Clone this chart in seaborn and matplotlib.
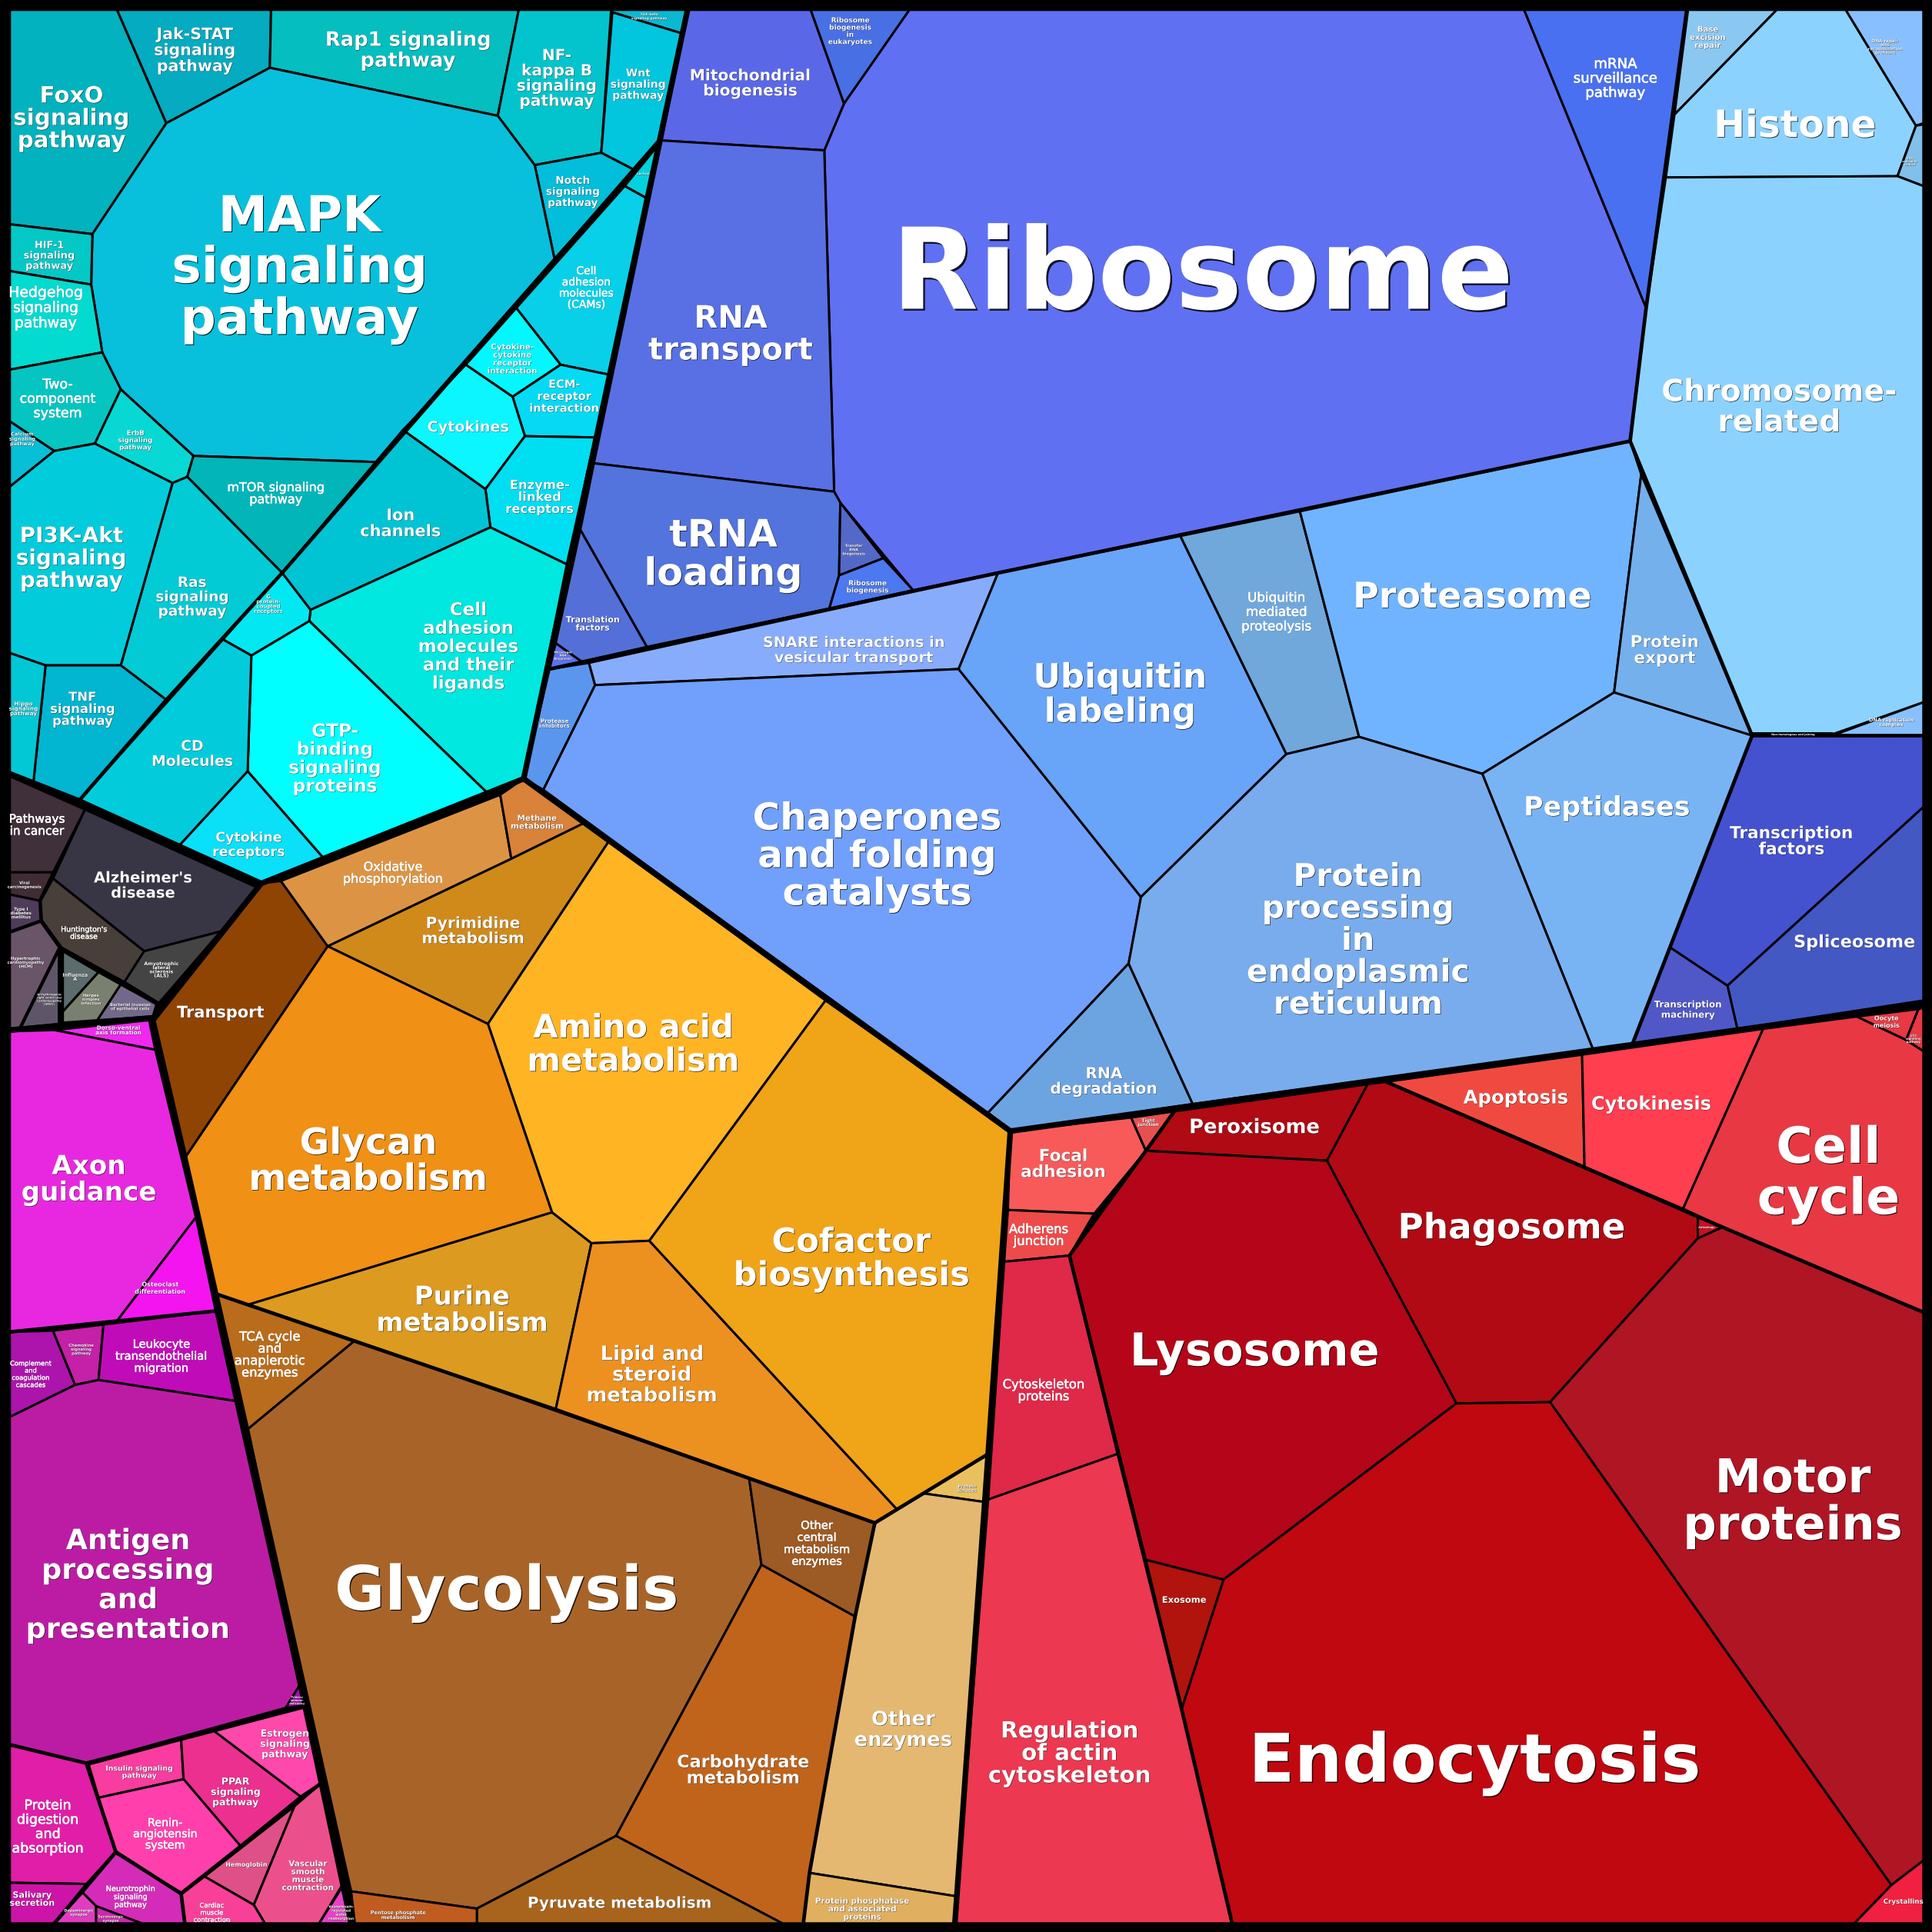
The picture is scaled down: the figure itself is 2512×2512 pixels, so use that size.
import numpy as np
import pandas as pd
import matplotlib
matplotlib.use("Agg")
import matplotlib.pyplot as plt
import matplotlib.patheffects as pe
import seaborn as sns

# === Signaling (cyan) ===
sig_names = ["FoxO\nsignaling\npathway", "Jak-STAT\nsignaling\npathway", "Rap1 signaling\npathway", "NF-\nkappa B\nsignaling\npathway",
             "TGF-beta\nsignaling pathway", "Wnt\nsignaling\npathway", "Notch\nsignaling\npathway", "Lectins",
             "MAPK\nsignaling\npathway", "HIF-1\nsignaling\npathway", "Hedgehog\nsignaling\npathway", "Two-\ncomponent\nsystem",
             "Calcium\nsignaling\npathway", "ErbB\nsignaling\npathway", "mTOR signaling\npathway", "Ras\nsignaling\npathway",
             "PI3K-Akt\nsignaling\npathway", "TNF\nsignaling\npathway", "Hippo\nsignaling\npathway",
             "Cell\nadhesion\nmolecules\n(CAMs)", "Cytokine-\ncytokine\nreceptor\ninteraction", "ECM-\nreceptor\ninteraction",
             "Cytokines", "Enzyme-\nlinked\nreceptors", "Ion\nchannels", "Cell\nadhesion\nmolecules\nand their\nligands",
             "GTP-\nbinding\nsignaling\nproteins", "G\nprotein-\ncoupled\nreceptors", "CD\nMolecules", "Cytokine\nreceptors"]
sig_colors = ["#02B2BE", "#05ABC0", "#04BEC0", "#03C4CC", "#0AB8D2", "#02C6DE", "#02BEDA", "#02D2DE",
              "#08C0DC", "#03C8C6", "#03DAD0", "#04C5C2", "#08BFD8", "#08D8D4", "#02B5B8", "#02CBD6",
              "#02CCDC", "#02B5D0", "#02C8D6",
              "#08D0E8", "#02F8FF", "#04DAF4", "#0BF6FF", "#00DEF2", "#00C4D4", "#00E8E0",
              "#00FFFF", "#02E8F2", "#02CCDC", "#0AE0F8"]
sig_polys = [[(8,8),(95,8),(135,100),(75,190),(8,182)], [(95,8),(220,8),(219,55),(135,100)],
             [(220,8),(421,8),(404,94),(219,55)], [(421,8),(496,8),(488,124),(434,134),(404,94)],
             [(496,8),(558,8),(553,27),(497,10)], [(497,10),(553,27),(534,115),(515,138),(488,124)],
             [(434,134),(488,124),(515,138),(450,210)], [(534,118),(507,151),(525,161)],
             [(75,190),(135,100),(219,55),(404,94),(434,134),(450,210),(305,375),(157,370),(98,316),(83,286),(74,231)],
             [(8,182),(75,190),(74,231),(8,220)], [(8,220),(74,231),(83,286),(8,300)],
             [(8,300),(83,286),(98,316),(77,360),(44,366),(8,342)], [(8,342),(44,366),(8,395)],
             [(98,316),(157,370),(152,387),(140,392),(77,360)], [(157,370),(305,375),(229,465),(152,387)],
             [(140,392),(152,387),(229,465),(135,568),(98,540)],
             [(8,395),(44,366),(77,360),(140,392),(98,540),(37,540),(8,530)],
             [(37,540),(98,540),(135,568),(64,650),(27,636)], [(8,530),(37,540),(27,636),(8,628)],
             [(507,151),(525,161),(494,304),(455,296),(419,250)], [(419,250),(455,296),(416,322),(378,296)],
             [(455,296),(494,304),(483,355),(426,354),(416,322)], [(378,296),(416,322),(426,354),(394,397),(327,349)],
             [(426,354),(483,355),(460,458),(398,428),(394,397)], [(327,349),(394,397),(398,428),(252,495),(229,465)],
             [(252,495),(398,428),(460,458),(425,632),(396,644),(251,504)],
             [(251,504),(396,644),(263,697),(201,626),(204,532)], [(229,465),(252,495),(251,504),(204,532),(181,519)],
             [(181,519),(204,532),(201,626),(143,689),(64,650)], [(201,626),(263,697),(212,717),(143,689)]]
sig_xy = [(58,95),(158,40),(331,40),(452,63),(527,13),(518,68),(465,155),(522,141),
          (243,215),(40,207),(37,249),(47,323),(18,356),(110,357),(224,400),(156,484),
          (58,452),(67,575),(19,575),
          (476,233),(416,291),(458,321),(380,346),(438,403),(325,424),(380,524),
          (272,615),(218,490),(156,611),(202,685)]
sig_sizes = [8.4,5.9,7.4,5.8,1.3,4,3.9,1.2,18.5,3.7,5.4,5,1.9,2.5,4.6,5.3,8,4.7,2.1,4,3,4.2,5.5,4.7,6,6.6,6.7,2,5.4,5]

# === Ribosome, RNA and DNA (blue) ===
blue_names = ["Ribosome", "mRNA\nsurveillance\npathway", "Mitochondrial\nbiogenesis", "Ribosome\nbiogenesis\nin\neukaryotes",
              "RNA\ntransport", "tRNA\nloading", "Transfer\nRNA\nbiogenesis", "Ribosome\nbiogenesis", "Translation\nfactors",
              "Messenger\nRNA\nBiogenesis", "Base\nexcision\nrepair", "Histone", "DNA repair\nand\nrecombination\nproteins",
              "DNA\nreplication\ncontrol", "Chromosome-\nrelated", "DNA replication\ncomplex", "Non-homologous end joining",
              "Transcription\nfactors", "Spliceosome", "Transcription\nmachinery"]
blue_colors = ["#6070F2", "#4870F0", "#5A68E8", "#4870E4", "#5870E4", "#5274DC", "#5468C8", "#4C78F0", "#5470D8",
               "#5C70F0", "#8AC8F2", "#8CD2FF", "#88C0FF", "#80C0EA", "#8CD2FF", "#88C0FF", "#8CD2FF",
               "#4452D0", "#4458C4", "#5058C8"]
blue_polys = [[(738,8),(1237,8),(1336,250),(1323,358),(741,479),(682,408),(677,399),(669,122),(685,84)],
              [(1237,8),(1369,8),(1336,250)], [(558,8),(658,8),(685,84),(669,122),(537,114)], [(658,8),(738,8),(685,84)],
              [(537,114),(669,122),(677,399),(482,376)], [(482,376),(677,399),(682,408),(681,467),(673,494),(525,525),(471,430)],
              [(682,408),(717,453),(681,467)], [(681,467),(717,453),(741,479),(673,494)],
              [(471,430),(525,525),(472,537),(451,522)], [(451,522),(472,537),(446,543)],
              [(1370,8),(1442,8),(1359,93)], [(1359,93),(1442,8),(1498,8),(1555,102),(1540,143),(1352,144)],
              [(1498,8),(1561,8),(1561,100),(1555,102)], [(1555,102),(1561,101),(1561,151),(1540,143)],
              [(1352,144),(1540,143),(1561,151),(1561,570),(1487,596),(1422,597),(1323,358),(1336,250)],
              [(1487,597),(1561,570),(1561,597)], [(1422,595),(1487,595),(1487,597),(1422,597)],
              [(1422,597),(1561,597),(1561,655),(1402,800),(1354,768)], [(1561,655),(1561,812),(1410,835),(1402,800)],
              [(1354,768),(1402,800),(1410,835),(1325,847)]]
blue_xy = [(976,218),(1311,63),(609,67),(690,25),(593,270),(587,448),(693,446),(704,476),(481,506),(457,532),
           (1386,30),(1457,100),(1530,38),(1550,131),(1444,329),(1535,586),(1455,596),(1454,682),(1505,764),(1370,819)]
blue_sizes = [42,5.2,5.8,2.6,11.5,14.1,1.4,2.6,3.2,1.1,2.9,14,1.6,0.9,11.3,1.9,1,6.2,6.4,3.4]

# === Protein folding and degradation (light blue) ===
prot_names = ["Protease\ninhibitors", "SNARE interactions in\nvesicular transport", "Chaperones\nand folding\ncatalysts",
              "RNA\ndegradation", "Ubiquitin\nlabeling", "Ubiquitin\nmediated\nproteolysis", "Proteasome", "Protein\nexport",
              "Peptidases", "Protein\nprocessing\nin\nendoplasmic\nreticulum"]
prot_colors = ["#5A96EE", "#88ACFC", "#70A0FC", "#6CA4E2", "#68A4F8", "#70A8DC", "#70B4FF", "#74B0EC", "#78B4F4", "#78ACEC"]
prot_polys = [[(446,543),(478,538),(483,556),(441,641),(425,632)], [(478,538),(810,465),(778,543),(483,556)],
              [(483,556),(778,543),(926,728),(916,782),(802,903),(820,918),(441,641)], [(916,782),(968,896),(820,918),(802,903)],
              [(810,465),(958,435),(1044,612),(926,728),(778,543)], [(958,435),(1055,415),(1103,598),(1044,612)],
              [(1055,415),(1323,358),(1332,385),(1310,562),(1203,628),(1103,598)], [(1332,385),(1422,597),(1310,562)],
              [(1310,562),(1422,597),(1325,847),(1293,852),(1203,628)],
              [(1044,612),(1103,598),(1203,628),(1293,852),(968,896),(916,782),(926,728)]]
prot_xy = [(450,587),(693,527),(712,693),(896,877),(909,562),(1036,496),(1195,483),(1351,527),(1304,654),(1102,762)]
prot_sizes = [2.1,5.5,13.9,5.8,12.5,4.8,13.2,6.2,10,11.7]

# === Metabolism (orange and brown) ===
met_names = ["Transport", "Oxidative\nphosphorylation", "Methane\nmetabolism", "Pyrimidine\nmetabolism", "Amino acid\nmetabolism",
             "Glycan\nmetabolism", "Purine\nmetabolism", "Lipid and\nsteroid\nmetabolism", "Cofactor\nbiosynthesis", "Protein\nkinases",
             "Other\nenzymes", "Protein phosphatase\nand associated\nproteins", "TCA cycle\nand\nanaplerotic\nenzymes", "Glycolysis",
             "Other\ncentral\nmetabolism\nenzymes", "Carbohydrate\nmetabolism", "Pyruvate metabolism", "Pentose phosphate\nmetabolism"]
met_colors = ["#904404", "#DC9444", "#D8823A", "#D08A1A", "#FFB424", "#F09014", "#DC9A20", "#EC9020", "#F0A418", "#E8C060",
              "#E4B870", "#E0B060", "#B86C1C", "#A86428", "#9C5A24", "#C0641C", "#A8641C", "#C05C20"]
met_polys = [[(212,717),(228,715),(266,768),(150,940),(124,828)], [(228,715),(406,645),(415,697),(266,768)],
             [(406,645),(425,632),(474,668),(415,697)], [(266,768),(415,697),(474,668),(494,683),(396,831)],
             [(494,683),(670,812),(527,1007),(480,1009),(448,984),(396,831)], [(266,768),(396,831),(448,984),(201,1059),(175,1050),(150,940)],
             [(201,1059),(448,984),(480,1009),(451,1144)], [(480,1009),(527,1007),(728,1225),(710,1236),(451,1144)],
             [(670,812),(820,918),(802,1180),(728,1225),(527,1007)], [(802,1180),(799,1219),(749,1212)],
             [(710,1236),(749,1212),(799,1219),(776,1539),(657,1520),(694,1312)], [(657,1520),(776,1539),(775,1561),(652,1561)],
             [(175,1050),(288,1088),(201,1160)], [(288,1088),(608,1200),(618,1270),(500,1490),(387,1549),(285,1535),(201,1160)],
             [(608,1200),(710,1236),(694,1312),(618,1270)], [(618,1270),(694,1312),(657,1520),(652,1561),(635,1561),(500,1490)],
             [(500,1490),(635,1561),(387,1561),(387,1549)], [(285,1535),(387,1549),(387,1561),(288,1561)]]
met_xy = [(179,821),(319,708),(436,667),(384,755),(514,846),(299,941),(375,1062),(529,1115),(691,1020),(785,1208),
          (733,1403),(700,1549),(219,1099),(411,1289),(663,1252),(603,1436),(503,1544),(323,1554)]
met_sizes = [6,4.6,3,5.8,12,13.5,9.7,7.4,12.4,1.7,7.4,3,4.7,22.8,4.2,6.4,5.7,1.9]

# === Cellular processes (red) ===
red_names = ["Focal\nadhesion", "Tight\njunction", "Adherens\njunction", "Cytoskeleton\nproteins", "Regulation\nof actin\ncytoskeleton",
             "Peroxisome", "Apoptosis", "Cytokinesis", "Cell\ncycle", "Oocyte\nmeiosis", "p53\nsignaling\npathway", "Phagosome",
             "Lysosome", "Autophagy", "Motor\nproteins", "Endocytosis", "Exosome", "Crystallins"]
red_colors = ["#F85A5A", "#E85050", "#EE4A4A", "#E02848", "#EC3850", "#B00A14", "#F04A40", "#FF3E50", "#E83844", "#E83844", "#E83844",
              "#B20A14", "#B40618", "#C81020", "#B01524", "#C00810", "#B0140C", "#F02040"]
red_polys = [[(820,918),(918,907),(930,934),(888,985),(818,982)], [(918,907),(953,902),(930,934)], [(818,982),(888,985),(868,1019),(815,1024)],
             [(815,1024),(868,1019),(907,1180),(802,1217)], [(802,1217),(907,1180),(959,1387),(1000,1561),(775,1561)],
             [(953,902),(1110,880),(1077,942),(930,934)], [(1125,878),(1284,856),(1286,947)], [(1284,856),(1431,835),(1366,981),(1286,947)],
             [(1431,835),(1507,825),(1547,844),(1561,853),(1561,1065),(1398,996),(1366,981)], [(1507,825),(1557,819),(1547,844)],
             [(1557,819),(1561,818),(1561,853),(1547,844)],
             [(1110,880),(1125,878),(1286,947),(1378,988),(1378,1005),(1258,1138),(1182,1139),(1077,942)],
             [(930,934),(1077,942),(1182,1139),(993,1282),(930,1266),(868,1019)], [(1378,988),(1398,996),(1378,1005)],
             [(1378,1005),(1398,996),(1561,1065),(1561,1510),(1535,1530),(1258,1138)],
             [(1182,1139),(1258,1138),(1535,1530),(1505,1561),(1000,1561),(959,1387),(993,1282)],
             [(930,1266),(993,1282),(959,1387)], [(1535,1530),(1561,1510),(1561,1561),(1505,1561)]]
red_xy = [(863,944),(932,911),(843,1002),(847,1128),(868,1422),(1018,914),(1230,890),(1340,895),(1484,950),(1531,829),(1553,843),
          (1227,995),(1018,1095),(1385,996),(1455,1217),(1197,1427),(961,1298),(1545,1543)]
red_sizes = [6.2,1.7,4.7,4.7,8.4,7.4,7,6.9,18.6,2.3,1.1,13,16.9,0.8,17.4,25,3.3,2.5]

# === Disease (dark) ===
dark_names = ["Pathways\nin cancer", "Viral\ncarcinogenesis", "Type I\ndiabetes\nmellitus", "Alzheimer's\ndisease", "Huntington's\ndisease",
              "Amyotrophic\nlateral\nsclerosis\n(ALS)", "Hypertrophic\ncardiomyopathy\n(HCM)",
              "Arrhythmogenic\nright ventricular\ncardiomyopathy\n(ARVC)", "Influenza\nA", "Herpes\nsimplex\ninfection",
              "Bacterial invasion\nof epithelial cells"]
dark_colors = ["#40303A", "#402C34", "#4E3C5A", "#383644", "#483E3A", "#444444", "#6A5468", "#5E5668", "#5C6C6C", "#7A8070", "#74688A"]
dark_polys = [[(8,630),(69,657),(43,708),(8,708)], [(8,708),(43,708),(32,731),(8,726)], [(8,726),(32,731),(33,747),(8,756)],
              [(69,657),(208,720),(179,756),(117,772),(43,713)], [(43,713),(117,772),(101,797),(50,769),(34,747),(33,731)],
              [(117,772),(179,756),(129,814),(101,797)], [(8,757),(33,748),(48,769),(16,834),(8,835)], [(48,771),(48,831),(17,834)],
              [(51,772),(80,789),(51,821)], [(51,821),(80,789),(98,799),(79,828),(51,830)], [(98,799),(127,815),(124,825),(79,828)]]
dark_xy = [(30,669),(20,718),(17,741),(116,718),(68,757),(131,787),(21,781),(40,811),(61,793),(74,811),(106,817)]
dark_sizes = [4.4,1.5,1.6,5.6,2.7,1.8,1.5,0.9,1.8,1.5,1.5]

# === Organismal systems (magenta) ===
mag_names = ["Dorso-ventral\naxis formation", "Axon\nguidance", "Osteoclast\ndifferentiation", "Complement\nand\ncoagulation\ncascades",
             "Chemokine\nsignaling\npathway", "Leukocyte\ntransendothelial\nmigration", "Antigen\nprocessing\nand\npresentation",
             "Primary\nimmuno-\ndeficiency", "Protein\ndigestion\nand\nabsorption", "Salivary\nsecretion", "Insulin signaling\npathway",
             "PPAR\nsignaling\npathway", "Estrogen\nsignaling\npathway", "Renin-\nangiotensin\nsystem", "Hemoglobin",
             "Vascular\nsmooth\nmuscle\ncontraction", "Cardiac\nmuscle\ncontraction", "Vasopressin-\nregulated\nwater\nreabsorption",
             "Neurotrophin\nsignaling\npathway", "Dopaminergic\nsynapse", "Serotonergic\nsynapse"]
mag_colors = ["#F028F0", "#E828E0", "#F414F0", "#AC14AC", "#C420A8", "#C00CB8", "#BC1CA4", "#AA10B0", "#E01EA8", "#CC14A8", "#F83CA0",
              "#EC3090", "#FF48AC", "#FF40AC", "#E05088", "#EC508C", "#F84098", "#E840C4", "#D42CB8", "#E03CC0", "#CC28B0"]
mag_polys = [[(44,836),(121,828),(126,852)], [(8,837),(44,836),(126,852),(159,988),(95,1072),(8,1081)], [(159,988),(175,1064),(95,1072)],
             [(8,1081),(43,1080),(61,1124),(8,1150)], [(43,1080),(84,1075),(80,1120),(61,1124)], [(84,1075),(175,1064),(191,1137),(80,1120)],
             [(8,1150),(61,1124),(80,1120),(191,1137),(243,1368),(232,1386),(70,1431),(8,1416)], [(243,1368),(248,1384),(232,1386)],
             [(8,1416),(70,1431),(94,1503),(70,1529),(8,1528)], [(8,1528),(70,1529),(44,1561),(8,1561)],
             [(72,1432),(147,1412),(149,1444),(80,1459)], [(147,1412),(174,1405),(244,1458),(195,1498),(149,1444)],
             [(174,1405),(249,1385),(262,1446),(244,1458)], [(80,1459),(149,1444),(195,1498),(147,1536),(94,1504)],
             [(166,1523),(239,1466),(206,1546)], [(239,1466),(262,1446),(280,1526),(259,1561),(215,1561),(206,1546)],
             [(166,1523),(206,1546),(215,1561),(150,1561),(147,1537)], [(280,1528),(287,1561),(259,1561)],
             [(94,1504),(147,1537),(150,1561),(115,1561),(78,1547),(67,1536)], [(67,1536),(78,1547),(78,1561),(44,1561)],
             [(78,1547),(115,1561),(78,1561)]]
mag_xy = [(96,836),(72,956),(130,1045),(25,1115),(66,1095),(131,1100),(104,1285),(241,1380),(39,1482),(26,1541),(113,1438),
          (191,1454),(231,1415),(134,1488),(200,1513),(250,1522),(172,1552),(277,1552),(106,1539),(64,1552),(90,1557)]
mag_sizes = [2.1,9.8,2.3,2.4,1.5,4.2,10.5,0.6,5,3.2,2.7,3.6,3.6,4.1,2.3,3,2.4,1.3,2.8,1.4,1.3]

# labels that are drawn in the regular weight
thin_labels = ["mTOR signaling\npathway", "Hedgehog\nsignaling\npathway", "Two-\ncomponent\nsystem", "Ubiquitin\nmediated\nproteolysis",
               "Oxidative\nphosphorylation", "Other\ncentral\nmetabolism\nenzymes", "Adherens\njunction", "Cytoskeleton\nproteins",
               "Pathways\nin cancer", "Huntington's\ndisease", "Complement\nand\ncoagulation\ncascades",
               "Leukocyte\ntransendothelial\nmigration", "Protein\ndigestion\nand\nabsorption", "Renin-\nangiotensin\nsystem",
               "Neurotrophin\nsignaling\npathway", "Cardiac\nmuscle\ncontraction", "Cell\nadhesion\nmolecules\n(CAMs)",
               "mRNA\nsurveillance\npathway", "TCA cycle\nand\nanaplerotic\nenzymes"]

# === Group borders ===
heavy_borders = [[(558,8),(425,632)], [(425,632),(212,717),(64,650),(8,628)], [(425,632),(820,918)], [(820,918),(1561,815)],
                 [(820,918),(802,1180),(775,1561)], [(212,717),(124,828),(150,940),(175,1050),(200,1160),(285,1561)],
                 [(8,836),(124,826)]]
medium_borders = [[(534,115),(229,465),(135,568),(64,650)], [(1369,8),(1336,250),(1323,358),(1422,597),(1325,847)],
                  [(446,543),(810,465),(1323,358)], [(1422,597),(1561,597)], [(175,1050),(451,1144),(710,1236),(802,1180)],
                  [(710,1236),(694,1312),(657,1520),(652,1561)], [(868,1019),(959,1387),(1000,1561)],
                  [(868,1019),(930,934),(953,902)], [(1125,878),(1398,996),(1561,1065)],
                  [(8,1416),(70,1431),(248,1385)], [(70,1431),(94,1503),(44,1561)], [(94,1503),(147,1537),(262,1446)],
                  [(147,1537),(150,1561)], [(8,1081),(175,1064)], [(48,771),(48,831)]]

sns.set_theme(style="white")
plt.rcParams['font.family'] = ['DejaVu Sans']

fig, ax = plt.subplots(figsize=(10, 10), dpi=251.2)
ax.set_position([0, 0, 1, 1])
fig.patch.set_facecolor('black')

groups = [(sig_names, sig_colors, sig_polys, sig_xy, sig_sizes),
          (blue_names, blue_colors, blue_polys, blue_xy, blue_sizes),
          (prot_names, prot_colors, prot_polys, prot_xy, prot_sizes),
          (met_names, met_colors, met_polys, met_xy, met_sizes),
          (red_names, red_colors, red_polys, red_xy, red_sizes),
          (dark_names, dark_colors, dark_polys, dark_xy, dark_sizes),
          (mag_names, mag_colors, mag_polys, mag_xy, mag_sizes)]

for names, colors, polys, xy, sizes in groups:
    for poly, color in zip(polys, colors):
        px, py = zip(*poly)
        ax.fill(px, py, facecolor=color, edgecolor='black', linewidth=0.85, joinstyle='round')


def border_frame(lines):
    rows = []
    for i, line in enumerate(lines):
        for x, y in line:
            rows.append({'x': x, 'y': y, 'seg': i})
    return pd.DataFrame(rows)


sns.lineplot(data=border_frame(medium_borders), x='x', y='y', units='seg', estimator=None, sort=False,
             color='black', linewidth=1.35, legend=False, ax=ax)
sns.lineplot(data=border_frame(heavy_borders), x='x', y='y', units='seg', estimator=None, sort=False,
             color='black', linewidth=2.1, legend=False, ax=ax)

for names, colors, polys, xy, sizes in groups:
    for name, (lx, ly), size in zip(names, xy, sizes):
        off = max(size * 0.016, 0.1)
        thin = name in thin_labels
        effects = [pe.SimplePatchShadow(offset=(off, -off), shadow_rgbFace='black', alpha=0.85)]
        if thin:
            effects.append(pe.Stroke(linewidth=size * 0.035, foreground='white'))
        effects.append(pe.Normal())
        ax.text(lx, ly + 0.174 * size, name, ha='center', va='center', multialignment='center', color='white', fontsize=size,
                fontweight='normal' if thin else 'bold', linespacing=1.05, path_effects=effects)

ax.set_xlim(0, 1568)
ax.set_ylim(1568, 0)
ax.axis('off')
fig.savefig('out.png', dpi=251.2, facecolor='black')
